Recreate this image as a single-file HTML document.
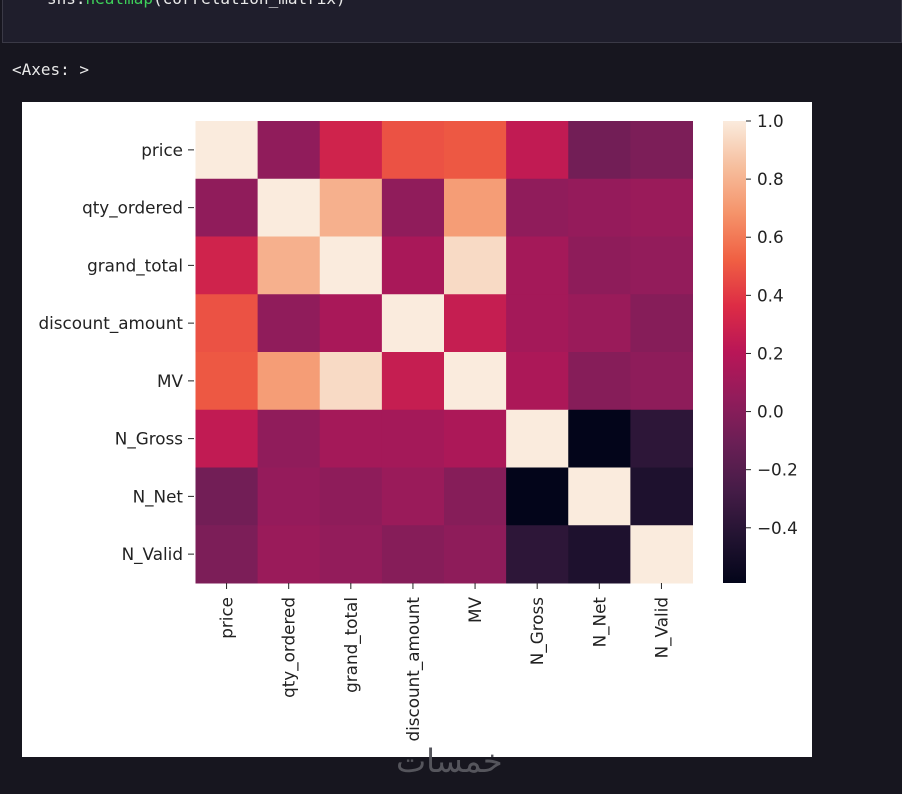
<!DOCTYPE html>
<html><head><meta charset="utf-8">
<style>
html,body{margin:0;padding:0;width:902px;height:794px;background:#17161f;overflow:hidden;font-family:"DejaVu Sans","Liberation Sans",sans-serif;}
#code{position:absolute;left:2px;top:-2px;width:900px;height:45px;background:#1f1e2c;border:1px solid #3a3946;box-sizing:border-box;}
#code span{position:absolute;left:44px;top:-10px;font-family:"DejaVu Sans Mono","Liberation Mono",monospace;font-size:16px;color:#e8e8e8;}
#axestxt{position:absolute;left:12px;top:60px;font-family:"DejaVu Sans Mono","Liberation Mono",monospace;font-size:16px;color:#e8e8e8;}
#fig{position:absolute;left:22px;top:102px;width:790px;height:655px;background:#fff;}
#wm{position:absolute;left:396px;top:742px;font-family:"DejaVu Sans",sans-serif;font-size:32px;color:#55555c;}
</style></head><body>
<div id="code"><span>sns.<span style="position:static;color:#3ecf5a">heatmap</span>(correlation_matrix)</span></div>
<div id="axestxt">&lt;Axes: &gt;</div>
<div id="fig"></div>
<svg id="chart" width="902" height="794" style="position:absolute;left:0;top:0" font-family="DejaVu Sans, Liberation Sans, sans-serif"></svg>
<div id="wm">خمسات</div>
<script>
const labels = ["price","qty_ordered","grand_total","discount_amount","MV ","N_Gross","N_Net","N_Valid"];
const row0 = [1, 0.04, 0.30, 0.48, 0.50, 0.24, -0.08, -0.04];
const row1 = [0.04, 1, 0.79, 0.04, 0.72, 0.04, 0.06, 0.08];
const row2 = [0.30, 0.79, 1, 0.14, 0.94, 0.12, 0.03, 0.05];
const row3 = [0.48, 0.04, 0.14, 1, 0.26, 0.12, 0.08, 0.0];
const row4 = [0.50, 0.72, 0.94, 0.26, 1, 0.15, 0.0, 0.03];
const row5 = [0.24, 0.04, 0.12, 0.12, 0.15, 1, -0.59, -0.38];
const row6 = [-0.08, 0.06, 0.03, 0.08, 0.0, -0.59, 1, -0.45];
const row7 = [-0.04, 0.08, 0.05, 0.0, 0.03, -0.38, -0.45, 1];
const matrix = [row0,row1,row2,row3,row4,row5,row6,row7];
const cbTicks = [1.0, 0.8, 0.6, 0.4, 0.2, 0.0, -0.2, -0.4];
const vmin = -0.59, vmax = 1.0;

const stops = ["#03051a","#221331","#451c47","#691f55","#921c5b","#b91657","#dd2c45","#f06043","#f5936a","#f6be9d","#faebdd"];
function hex(h){return [1,3,5].map(i=>parseInt(h.substr(i,2),16));}
function color(v){
  let t=(v-vmin)/(vmax-vmin); t=Math.max(0,Math.min(1,t));
  const p=t*10, i=Math.min(9,Math.floor(p)), f=p-i;
  const a=hex(stops[i]), b=hex(stops[i+1]);
  return "rgb("+a.map((x,k)=>Math.round(x+(b[k]-x)*f)).join(",")+")";
}
const X0=195.5, X1=692.5, Y0=121, Y1=583;
const n=labels.length, cw=(X1-X0)/n, ch=(Y1-Y0)/n;
const xs=i=>X0+i*cw, ys=i=>Y0+i*ch;
const CBX=723, CBW=23;
const cbY=v=>Y0+(vmax-v)/(vmax-vmin)*(Y1-Y0);
const svg=document.getElementById('chart');
const NS="http://www.w3.org/2000/svg";
const FS=16.8;
function mk(tag,attrs){const e=document.createElementNS(NS,tag);for(const k in attrs)e.setAttribute(k,attrs[k]);svg.appendChild(e);return e;}

for(let r=0;r<n;r++)for(let c=0;c<n;c++){
  const e=mk('rect',{x:xs(c),y:ys(r),width:cw+0.5,height:ch+0.5,fill:color(matrix[r][c])});
  
  
}
for(let i=0;i<n;i++){
  const yc=ys(i)+ch/2;
  const t=mk('line',{x1:188,x2:194,y1:yc,y2:yc,stroke:'#222','stroke-width':1});
  
  
  const l=mk('text',{x:183,y:yc+6,'text-anchor':'end','font-size':FS,fill:'#222'});
  l.textContent=labels[i];
  
  
  const xc=xs(i)+cw/2;
  const t2=mk('line',{x1:xc,x2:xc,y1:583,y2:589,stroke:'#222','stroke-width':1});
  
  
  const l2=mk('text',{x:0,y:0,'text-anchor':'end','font-size':FS,fill:'#222',transform:'translate('+(xc+6)+',597) rotate(-90)'});
  l2.textContent=labels[i];
  
  
}
const defs=mk('defs',{});
const g=document.createElementNS(NS,'linearGradient');
g.setAttribute('id','cbg');g.setAttribute('x1','0');g.setAttribute('y1','1');g.setAttribute('x2','0');g.setAttribute('y2','0');
stops.forEach((s,i)=>{const st=document.createElementNS(NS,'stop');st.setAttribute('offset',i/10);st.setAttribute('stop-color',s);g.appendChild(st);});
defs.appendChild(g);
const cb=mk('rect',{x:CBX,y:Y0,width:CBW,height:Y1-Y0,fill:'url(#cbg)'});


cbTicks.forEach(v=>{
  const y=cbY(v);
  const t=mk('line',{x1:CBX+CBW,x2:CBX+CBW+5,y1:y,y2:y,stroke:'#222','stroke-width':1});
  
  
  const l=mk('text',{x:757,y:y+6,'font-size':FS,fill:'#222'});
  l.textContent=(v<0?'\u2212':'')+Math.abs(v).toFixed(1);
  
  
});
</script>
</body></html>
